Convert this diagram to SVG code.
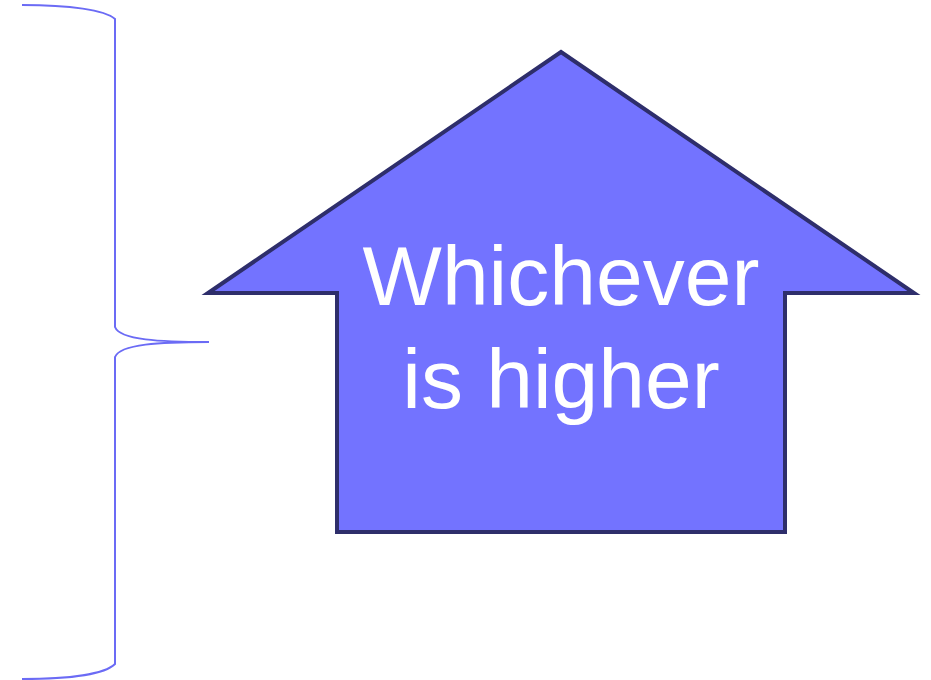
<svg xmlns="http://www.w3.org/2000/svg" width="931" height="680" viewBox="0 0 931 680">
<style>
.brace{fill:none;stroke:#6B6BF5;stroke-width:2}
.arrow{fill:#7373FF;stroke:#2E2E6B;stroke-width:4}
.lbl{font-family:"Liberation Sans",Arial,sans-serif;font-size:84px;fill:#FFFFFF;text-anchor:middle}
</style>
<rect width="931" height="680" fill="#FFFFFF"/>
<g id="connectors">
<path id="brace" class="brace" d="M22,5 C70,5 105,10 115,19 L115,327 C120,340 160,342 209,342 C160,342 120,344 115,357 L115,664 C105,674 70,679 22,679"/>
</g>
<g id="arrow-node">
<polygon class="arrow" points="561,52 914,293 785,293 785,532 337,532 337,293 208,293"/>
<text class="lbl" x="561" y="305">Whichever</text>
<text class="lbl" x="561" y="408">is higher</text>
</g>
</svg>
